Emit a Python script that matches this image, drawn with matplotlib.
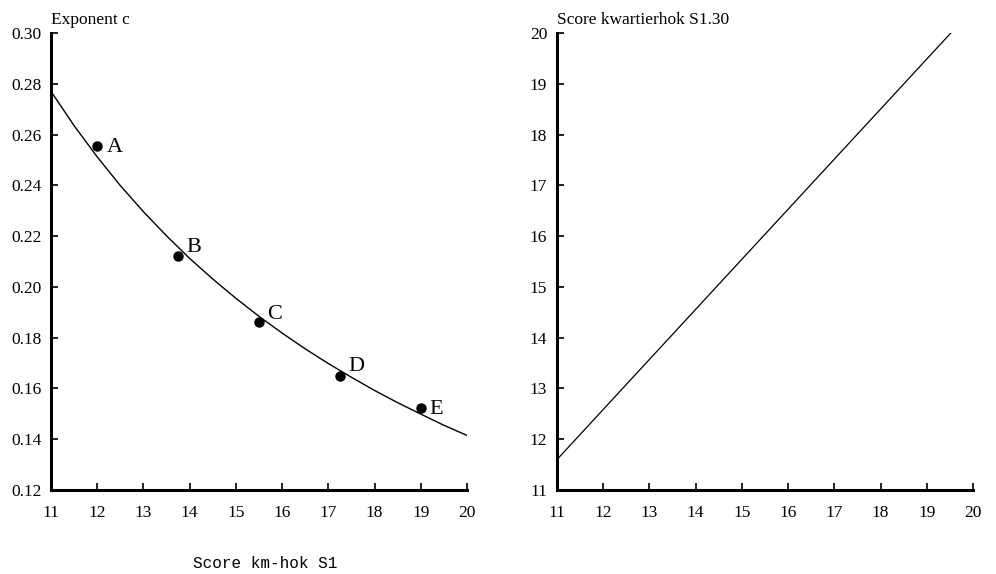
import matplotlib

matplotlib.use("Agg")
import matplotlib.pyplot as plt

curve_x = [11, 11.5, 12, 12.5, 13, 13.5, 14, 14.5, 15, 15.5, 16, 16.5, 17, 17.5,
           18, 18.5, 19, 19.5, 20]
curve_c = [0.2770, 0.2635, 0.2512, 0.2399, 0.2296, 0.2201, 0.2112, 0.2031, 0.1955,
           0.1884, 0.1818, 0.1756, 0.1698, 0.1644, 0.1592, 0.1544, 0.1499, 0.1455,
           0.1415]
pt_names = ["A", "B", "C", "D", "E"]
pt_x = [12, 13.75, 15.5, 17.25, 19]
pt_c = [0.2553, 0.2123, 0.1860, 0.1648, 0.1524]
# label offsets (points) relative to each dot
pt_off = [(7, -1), (6, 6), (6, 6), (6, 7), (6, -1)]

# right panel: conversion line
line_x = [11, 19.52]
line_y = [11.6, 20]

plt.rcParams["font.family"] = ["Liberation Serif", "DejaVu Serif"]

fig = plt.figure(figsize=(9.96, 5.74), dpi=100)
ax1 = fig.add_axes([51 / 996, 1 - 490 / 574, 416 / 996, 457 / 574])
ax2 = fig.add_axes([557 / 996, 1 - 490 / 574, 416 / 996, 457 / 574])

ax1.plot(curve_x, curve_c, color="black", lw=1.0)
ax1.plot(pt_x, pt_c, "o", color="black", ms=6.5)
for n, x, y, off in zip(pt_names, pt_x, pt_c, pt_off):
    ax1.annotate(n, (x, y), xytext=off, textcoords="offset points",
                 fontsize=16, va="center", ha="left")
ax1.set_xlim(11, 20)
ax1.set_ylim(0.12, 0.30)
ax1.set_xticks(range(11, 21))
ax1.set_yticks([0.12 + 0.02 * i for i in range(10)])
ax1.set_yticklabels([f"{0.12 + 0.02 * i:.2f}" for i in range(10)])

ax2.plot(line_x, line_y, color="black", lw=0.9)
ax2.set_xlim(11, 20)
ax2.set_ylim(11, 20)
ax2.set_xticks(range(11, 21))
ax2.set_yticks(range(11, 21))

for ax in (ax1, ax2):
    for s in ("top", "right"):
        ax.spines[s].set_visible(False)
    for s in ("left", "bottom"):
        ax.spines[s].set_linewidth(2.2)
    ax.tick_params(direction="in", length=5, width=1.2, labelsize=12.5)
    ax.tick_params(axis="x", pad=11)
    ax.tick_params(axis="y", pad=7)

fig.text(51 / 996, 1 - 24 / 574, "Exponent c", fontsize=12.5, va="baseline", ha="left")
fig.text(557 / 996, 1 - 24 / 574, "Score kwartierhok S1.30", fontsize=12.5,
         va="baseline", ha="left")
fig.text(265 / 996, 1 - 563 / 574, "Score km-hok S1", fontsize=11.5,
         family="Liberation Mono", ha="center", va="center")

fig.savefig("out.png", dpi=100)
